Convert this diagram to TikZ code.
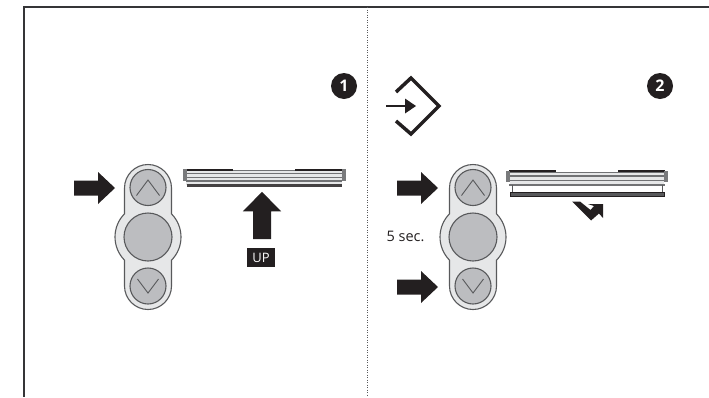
\documentclass[tikz,border=0pt]{standalone}
\usepackage{fontspec}
\setmainfont{Open Sans}
\usetikzlibrary{positioning}
\definecolor{inkblack}{HTML}{231F20}
\definecolor{edgegray}{HTML}{58595B}
\definecolor{keygray}{HTML}{BCBDC0}
\definecolor{bodygray}{HTML}{E6E7E8}
\begin{document}
\begin{tikzpicture}[
      x=1pt, y=1pt, yscale=-1,
      badge/.style={circle, fill=inkblack, text=white, inner sep=0pt,
        minimum size=26pt, font=\fontsize{16}{16}\selectfont\bfseries},
      uptag/.style={fill=inkblack, text=white, inner sep=0pt,
        minimum width=28pt, minimum height=19pt, font=\fontsize{13}{13}\selectfont},
      timetag/.style={inner sep=0pt, text=inkblack, font=\fontsize{14.5}{14.5}\selectfont},
      key/.style={draw=edgegray, line width=1.1pt, fill=keygray},
      stripe/.style={draw=edgegray!85, line width=1.1pt},
      pics/pusharrow/.style={code={
        \fill[inkblack] (0,-7.5) -- (24,-7.5) -- (24,-16) -- (41,0) -- (24,16)
          -- (24,7.5) -- (0,7.5) -- cycle;
      }},
      pics/remote/.style={code={
        \draw[draw=edgegray, line width=1.1pt, fill=bodygray]
          (-23.5,-49) arc (180:360:23.5) -- (23.5,-23.2)
          arc (-44.6:44.6:33) -- (23.5,49) arc (0:180:23.5) -- (-23.5,23.2)
          arc (135.4:224.6:33) -- cycle;
        \draw[key] (0,-49) circle (18);
        \draw[key] (0,0) circle (24);
        \draw[key] (0,49.5) circle (18);
        \draw[edgegray, line width=0.9pt] (-10.5,-42) -- (0,-56) -- (10.5,-42);
        \draw[edgegray, line width=0.9pt] (-11.5,41.5) -- (0,57) -- (11.5,41.5);
      }}
    ]
    \useasboundingbox (0,0) rectangle (709,397);

    % Frame
    \coordinate (corner) at (24,7);
    \coordinate (topend) at (709,7);
    \coordinate (leftend) at (24,397);
    \coordinate (midtop) at (367,7);
    \coordinate (midend) at (367,397);
    \draw[edgegray!60!black, line width=1.2pt] (topend) -- (corner) -- (leftend);
    \draw[edgegray, line width=1pt, dash pattern=on 1pt off 1.5pt] (midtop) -- (midend);

    % Step 1
    \node (badge1) [badge] at (344,86) {1};
    \pic at (148,237) {remote};
    \pic at (74,188) {pusharrow};
    \fill[bodygray] (186,171) rectangle (342,185);
    \foreach \y in {170.7,173.7,177.2,181}
      \draw[stripe] (186,\y) -- (342,\y);
    \draw[inkblack, line width=1.8pt] (186,170) -- (233,170);
    \draw[inkblack, line width=1.8pt] (295,170) -- (342,170);
    \draw[inkblack!85, line width=2.6pt] (186.5,185.5) -- (341.5,185.5);
    \fill[edgegray!80] (182.5,169) rectangle (186.5,181);
    \fill[edgegray!80] (341.5,169) rectangle (345.5,181);
    \pic[rotate=90, xscale=1.15, yscale=1.2] at (262,239) {pusharrow};
    \node (uptag) [uptag] at (261,257.5) {UP};

    % Enter icon
    \coordinate (tailend) at (386,106);
    \coordinate (tipend) at (408,106);
    \draw[inkblack, line width=2.6pt] (tailend) -- (tipend);
    \fill[inkblack] (416,106) -- (405,98.5) -- (405,113.5) -- cycle;
    \draw[inkblack, line width=3.5pt] (396,92) -- (411,78) -- (439,106)
      -- (411,134) -- (396,121);

    % Step 2
    \node (badge2) [badge] at (660,86) {2};
    \pic at (473,237) {remote};
    \pic at (397,188) {pusharrow};
    \pic at (397,287) {pusharrow};
    \node (timetag) [timetag] at (405.5,236) {5 sec.};
    \fill[bodygray] (510,172) rectangle (664,185);
    \foreach \y in {172.3,176,180.7,185}
      \draw[stripe] (509,\y) -- (665,\y);
    \draw[inkblack, line width=1.8pt] (509,171) -- (556,171);
    \draw[inkblack, line width=1.8pt] (618,171) -- (665,171);
    \draw[edgegray, line width=0.9pt] (512,185) -- (512,192);
    \draw[edgegray, line width=0.9pt] (662,185) -- (662,192);
    \fill[edgegray!80] (506,171) rectangle (510,182);
    \fill[edgegray!80] (664,171) rectangle (668,182);
    \draw[inkblack, fill=edgegray, line width=1pt] (510,192.3) rectangle (664,196.7);
    \fill[inkblack] (572,201.5) -- (580,201.5) -- (590.5,210) -- (594,206)
      -- (588,204) -- (603,204) -- (603,218) -- (599,213.5) -- (591,220.5) -- cycle;
  \end{tikzpicture}
\end{document}
